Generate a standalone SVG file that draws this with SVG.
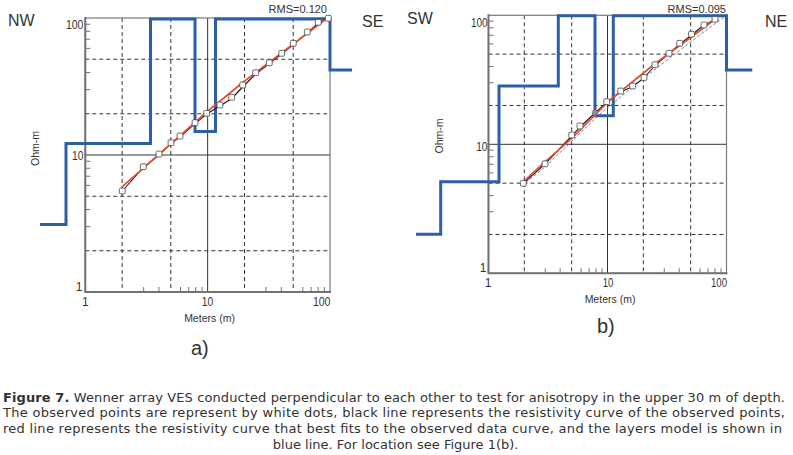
<svg xmlns="http://www.w3.org/2000/svg" xmlns:xlink="http://www.w3.org/1999/xlink" width="793" height="455" viewBox="0 0 793 455">
<style>
.frame{fill:none;stroke:#7a7a7a;stroke-width:1.2}
.axis{fill:none;stroke:#737373;stroke-width:2}
.grid{fill:none;stroke:#333;stroke-width:1;stroke-dasharray:4 3}
.ten{fill:none;stroke:#333;stroke-width:1}
.tick{fill:none;stroke:#737373;stroke-width:1}
.layer{fill:none;stroke:#2c5fa6;stroke-width:3;stroke-linejoin:miter}
.fit{fill:none;stroke:#e2502f;stroke-width:1.7;stroke-linejoin:round}
.obs{fill:none;stroke:#1a1a1a;stroke-width:1.1;stroke-linejoin:round}
.alt{fill:none;stroke:#5a6cb0;stroke-width:0.9;stroke-dasharray:3 2}
.pt{fill:#fff;stroke:#444;stroke-width:0.8}
.lbl{font-family:"Liberation Sans",Arial,sans-serif;fill:#333}
.dir{font-size:16px}
.num{font-size:12px}
.rms{font-size:11px}
.ax{font-size:10.5px}
.sub{font-size:20px}
.cap{font-family:"DejaVu Sans",Verdana,sans-serif;font-size:13px;fill:#333}
</style>
<defs>
<rect id="sq" x="-2.9" y="-2.9" width="5.8" height="5.8" rx="1.2" class="pt"/>
</defs>

<g id="chart-a">
  <g id="a-grid">
    <path class="grid" d="M122.13,18V292M170.82,18V292M244.48,18V292M293.17,18V292M85.3,250.76H330M85.3,196.24H330M85.3,113.76H330M85.3,59.24H330"/>
    <path class="ten" d="M207.65,18V292M85.3,155H330"/>
  </g>
  <g id="a-axes">
    <rect class="frame" x="85.3" y="18" width="244.7" height="274"/>
    <path class="axis" d="M85.3,17V292H331"/>
    <path class="tick" d="M85.3,24.27h5M85.3,31.28h5M85.3,39.22h5M85.3,48.39h5M85.3,72.52h5M85.3,89.63h5M85.3,161.27h5M85.3,168.28h5M85.3,176.22h5M85.3,185.39h5M85.3,209.52h5M85.3,226.63h5M143.68,292v-5M158.96,292v-5M180.51,292v-5M188.7,292v-5M195.79,292v-5M202.05,292v-5M266.03,292v-5M281.31,292v-5M302.86,292v-5M311.05,292v-5M318.14,292v-5M324.4,292v-5"/>
  </g>
  <g id="a-layers">
    <path class="layer" d="M40,224.5H66V143.5H150.5V19H195V131.5H215.5V19H330V70H352"/>
  </g>
  <g id="a-curves">
    <path class="obs" d="M122.3,191L143.3,167.5L159,155L171,143.5L180,137L195,123.5L206.7,114L220,106L231.7,98.5L242.7,87L255.7,74L269.3,63.5L281.7,54L293.3,44.5L307.3,33L318.3,23L328.3,18"/>
    <path class="fit" d="M122.3,186.7L160,153.5L206.7,112L243.3,82L293.3,44L330,16"/>
  </g>
  <g id="a-points">
    <use xlink:href="#sq" x="122.3" y="191"/>
    <use xlink:href="#sq" x="143.3" y="166.7"/>
    <use xlink:href="#sq" x="159" y="154"/>
    <use xlink:href="#sq" x="171" y="142.7"/>
    <use xlink:href="#sq" x="180" y="136"/>
    <use xlink:href="#sq" x="195" y="122.7"/>
    <use xlink:href="#sq" x="206.7" y="113.3"/>
    <use xlink:href="#sq" x="220" y="105"/>
    <use xlink:href="#sq" x="231.7" y="97.3"/>
    <use xlink:href="#sq" x="242.7" y="85"/>
    <use xlink:href="#sq" x="255.7" y="72.7"/>
    <use xlink:href="#sq" x="269.3" y="62.7"/>
    <use xlink:href="#sq" x="281.7" y="53.3"/>
    <use xlink:href="#sq" x="293.3" y="43.3"/>
    <use xlink:href="#sq" x="307.3" y="32"/>
    <use xlink:href="#sq" x="318.3" y="22.3"/>
    <use xlink:href="#sq" x="328.3" y="18.3"/>
  </g>
  <g id="a-labels" class="lbl">
    <text class="dir" x="8" y="26">NW</text>
    <text class="dir" x="362" y="26.5">SE</text>
    <text class="rms" x="327" y="13" text-anchor="end">RMS=0.120</text>
    <text class="num" x="83.5" y="29" text-anchor="end" textLength="17.6" lengthAdjust="spacingAndGlyphs">100</text>
    <text class="num" x="83.5" y="160" text-anchor="end" textLength="11.5" lengthAdjust="spacingAndGlyphs">10</text>
    <text class="num" x="82.5" y="291" text-anchor="end">1</text>
    <text class="num" x="85.3" y="305.5" text-anchor="middle">1</text>
    <text class="num" x="207.6" y="305.5" text-anchor="middle" textLength="11.5" lengthAdjust="spacingAndGlyphs">10</text>
    <text class="num" x="330.5" y="305.5" text-anchor="end" textLength="17.6" lengthAdjust="spacingAndGlyphs">100</text>
    <text class="ax" x="209.5" y="322" text-anchor="middle">Meters (m)</text>
    <text class="ax" transform="translate(39,148.5) rotate(-90)" text-anchor="middle">Ohm-m</text>
    <text class="sub" x="191" y="354.5">a)</text>
  </g>
</g>

<g id="chart-b">
  <g id="b-grid">
    <path class="grid" d="M524.32,15.3V273.3M571.68,15.3V273.3M643.32,15.3V273.3M690.68,15.3V273.3M488.5,234.47H726.5M488.5,183.13H726.5M488.5,105.47H726.5M488.5,54.13H726.5"/>
    <path class="ten" d="M607.5,15.3V273.3M488.5,144.3H726.5"/>
  </g>
  <g id="b-axes">
    <rect class="frame" x="488.5" y="15.3" width="238" height="258"/>
    <path class="axis" d="M488.5,14.3V273.3H727.5"/>
    <path class="tick" d="M488.5,21.2h5M488.5,27.8h5M488.5,35.28h5M488.5,43.92h5M488.5,66.63h5M488.5,82.75h5M488.5,150.2h5M488.5,156.8h5M488.5,164.28h5M488.5,172.92h5M488.5,195.63h5M488.5,211.75h5M545.28,273.3v-5M560.15,273.3v-5M581.1,273.3v-5M589.07,273.3v-5M595.97,273.3v-5M602.05,273.3v-5M664.28,273.3v-5M679.15,273.3v-5M700.1,273.3v-5M708.07,273.3v-5M714.97,273.3v-5M721.05,273.3v-5"/>
  </g>
  <g id="b-layers">
    <path class="layer" d="M416,234.3H440.7V181.7H499V86H558.3V15.7H595V115.7H613.3V15.7H726.5V70H752.3"/>
  </g>
  <g id="b-curves">
    <path class="alt" d="M522,185.5L545,167L572,141L600,114L640,81L680,50L724,17"/>
    <path class="obs" d="M523.3,183.3L545,164L571.7,136L580,127L595,113L606.7,102.5L620.7,92L632.7,86.5L643.3,78.5L655,65.5L668.3,54L680,44L691.7,35L703.3,25.5L715,19.5"/>
    <path class="fit" d="M523.3,181.7L543.3,163.3L571.7,138.3L610,100L653.3,65L691.7,36.7L714,20"/>
  </g>
  <g id="b-points">
    <use xlink:href="#sq" x="523.3" y="183.3"/>
    <use xlink:href="#sq" x="545" y="163.8"/>
    <use xlink:href="#sq" x="571.7" y="135"/>
    <use xlink:href="#sq" x="580" y="126"/>
    <circle cx="595" cy="112.7" r="2.8" fill="#8a8f9a" stroke="#666" stroke-width="0.6"/>
    <use xlink:href="#sq" x="606.7" y="101.7"/>
    <use xlink:href="#sq" x="620.7" y="91"/>
    <use xlink:href="#sq" x="632.7" y="86"/>
    <use xlink:href="#sq" x="644" y="77.5"/>
    <use xlink:href="#sq" x="655" y="64.7"/>
    <use xlink:href="#sq" x="669" y="53.3"/>
    <use xlink:href="#sq" x="679.7" y="43.3"/>
    <use xlink:href="#sq" x="691.5" y="34.2"/>
    <use xlink:href="#sq" x="704" y="25"/>
    <use xlink:href="#sq" x="715" y="19.3"/>
  </g>
  <g id="b-labels" class="lbl">
    <text class="dir" x="407" y="23.5">SW</text>
    <text class="dir" x="765" y="26.5">NE</text>
    <text class="rms" x="726" y="12.5" text-anchor="end">RMS=0.095</text>
    <text class="num" x="487.5" y="26.7" text-anchor="end" textLength="16.6" lengthAdjust="spacingAndGlyphs">100</text>
    <text class="num" x="487.5" y="150.5" text-anchor="end" textLength="11.3" lengthAdjust="spacingAndGlyphs">10</text>
    <text class="num" x="486.5" y="271.5" text-anchor="end">1</text>
    <text class="num" x="488" y="286.5" text-anchor="middle">1</text>
    <text class="num" x="608" y="286.5" text-anchor="middle" textLength="10.6" lengthAdjust="spacingAndGlyphs">10</text>
    <text class="num" x="727" y="286.5" text-anchor="end" textLength="16" lengthAdjust="spacingAndGlyphs">100</text>
    <text class="ax" x="610" y="302.5" text-anchor="middle">Meters (m)</text>
    <text class="ax" transform="translate(442.5,136) rotate(-90)" text-anchor="middle">Ohm-m</text>
    <text class="sub" x="597" y="332.5">b)</text>
  </g>
</g>

<g id="caption" class="cap">
  <text x="3" y="401.5" textLength="782" lengthAdjust="spacing"><tspan font-weight="bold">Figure 7.</tspan> Wenner array VES conducted perpendicular to each other to test for anisotropy in the upper 30 m of depth.</text>
  <text x="3" y="417.2" textLength="782" lengthAdjust="spacing">The observed points are represent by white dots, black line represents the resistivity curve of the observed points,</text>
  <text x="3" y="432.9" textLength="779" lengthAdjust="spacing">red line represents the resistivity curve that best fits to the observed data curve, and the layers model is shown in</text>
  <text x="395.7" y="448.6" text-anchor="middle">blue line. For location see Figure 1(b).</text>
</g>
</svg>
